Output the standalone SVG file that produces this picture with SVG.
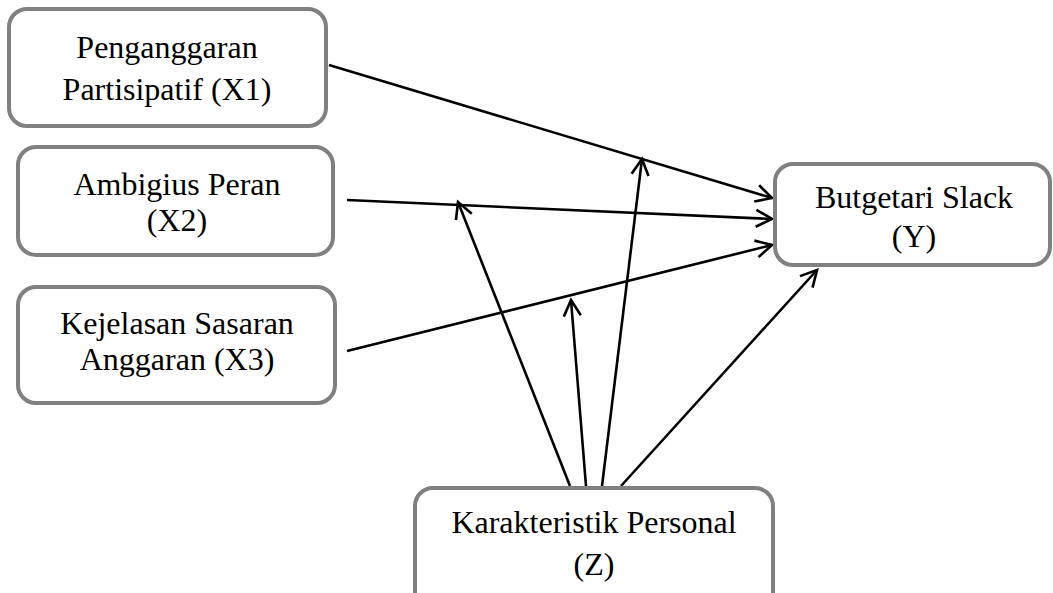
<svg xmlns="http://www.w3.org/2000/svg" width="1053" height="593" viewBox="0 0 1053 593">
<style>
.box{fill:#fff;stroke:#808080;stroke-width:4}
.t{font-family:"Liberation Serif","Times New Roman",serif;font-size:32px;fill:#000;text-anchor:middle}
.c{stroke:#000;stroke-width:2.6;fill:none;marker-end:url(#a)}
</style>
<defs>
<marker id="a" markerUnits="userSpaceOnUse" markerWidth="40" markerHeight="40" viewBox="-20 -20 40 40" refX="0" refY="0" orient="auto">
<path d="M-16,-8.5 L0,0 L-16,8.5" fill="none" stroke="#000" stroke-width="2.6"/>
</marker>
</defs>
<rect width="1053" height="593" fill="#fff"/>
<g id="connectors">
<line class="c" x1="329" y1="65" x2="772" y2="198"/>
<line class="c" x1="347" y1="200" x2="772" y2="219"/>
<line class="c" x1="347" y1="351" x2="772" y2="245"/>
<line class="c" x1="621" y1="486" x2="817" y2="270"/>
<line class="c" x1="570" y1="486" x2="458" y2="202"/>
<line class="c" x1="602" y1="486" x2="642" y2="159"/>
<line class="c" x1="586" y1="486" x2="571" y2="300"/>
</g>
<g id="x1">
<rect class="box" x="9" y="9" width="317" height="117" rx="18"/>
<text class="t" x="167" y="58">Penganggaran</text>
<text class="t" x="167" y="100">Partisipatif (X1)</text>
</g>
<g id="x2">
<rect class="box" x="18" y="147" width="315" height="108" rx="18"/>
<text class="t" x="177" y="195">Ambigius Peran</text>
<text class="t" x="177" y="231">(X2)</text>
</g>
<g id="x3">
<rect class="box" x="18" y="287" width="317" height="116" rx="18"/>
<text class="t" x="177" y="334">Kejelasan Sasaran</text>
<text class="t" x="177" y="370">Anggaran (X3)</text>
</g>
<g id="y">
<rect class="box" x="775" y="164" width="275" height="101" rx="18"/>
<text class="t" x="914" y="208">Butgetari Slack</text>
<text class="t" x="914" y="247">(Y)</text>
</g>
<g id="z">
<rect class="box" x="415" y="488" width="358" height="130" rx="18"/>
<text class="t" x="594" y="533">Karakteristik Personal</text>
<text class="t" x="594" y="575">(Z)</text>
</g>
</svg>
